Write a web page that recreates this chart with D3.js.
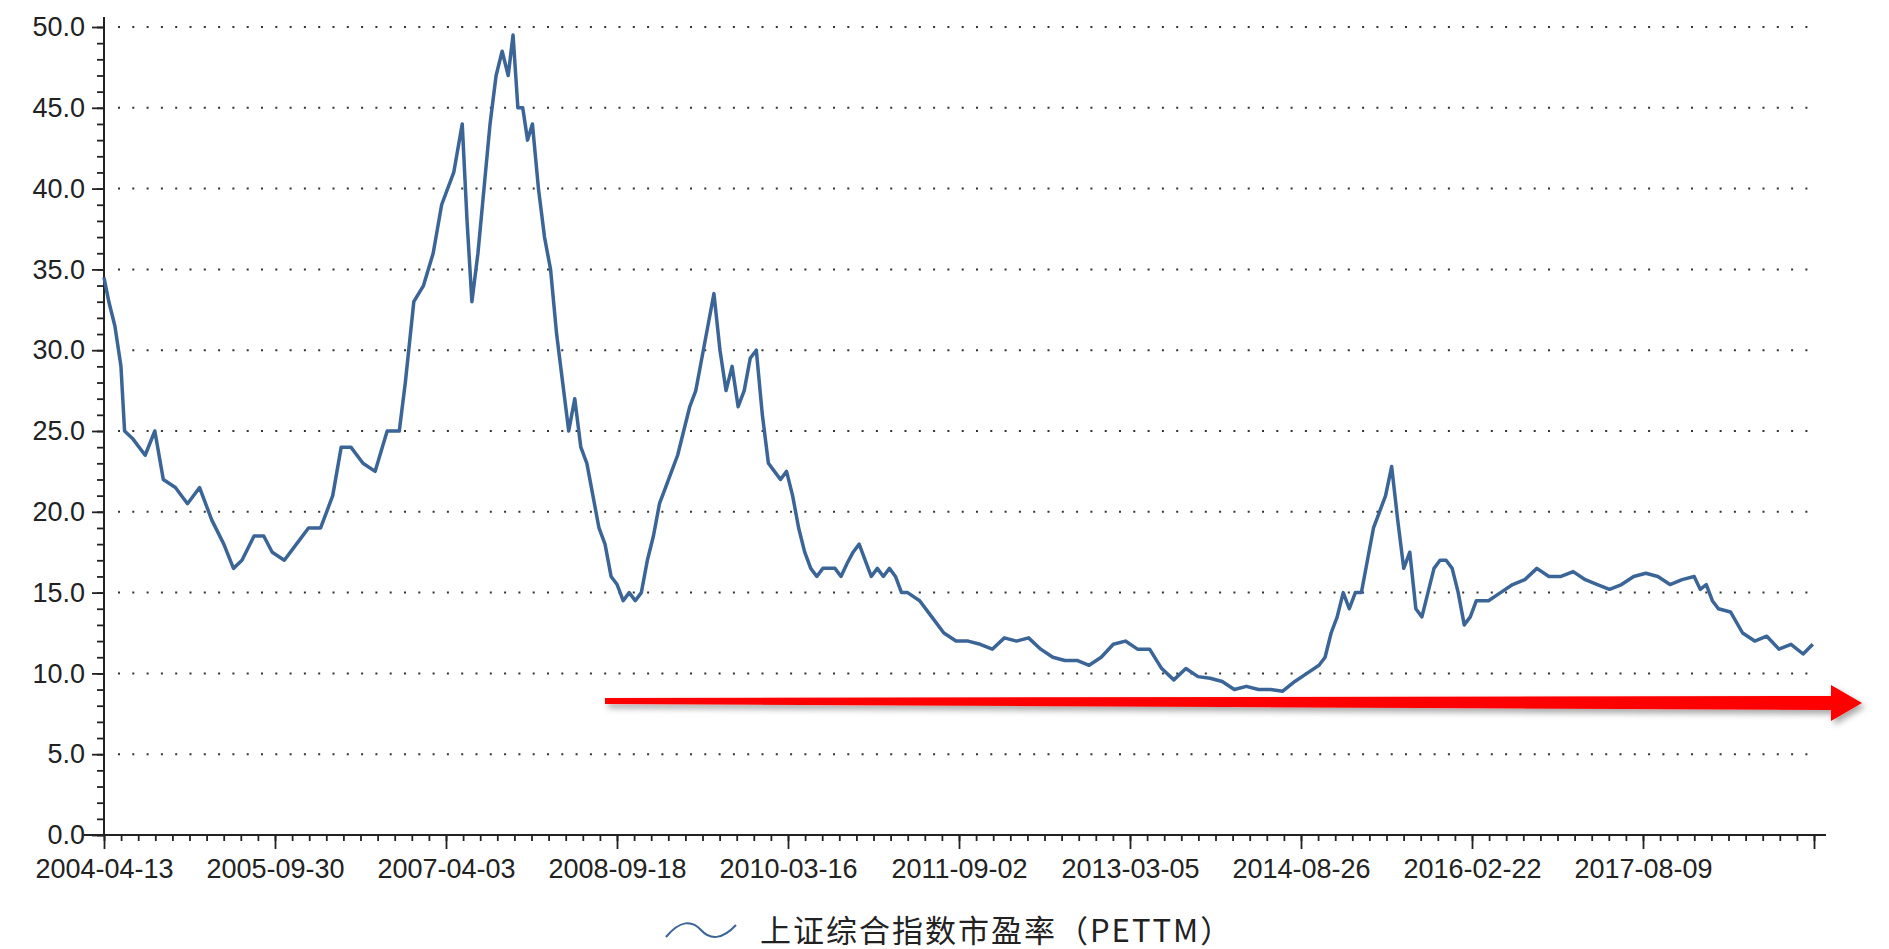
<!DOCTYPE html>
<html><head><meta charset="utf-8">
<script src="https://cdn.jsdelivr.net/npm/d3@7"></script>
<style>body{margin:0;background:#fff}</style></head>
<body><svg id="c" width="1889" height="949"></svg>
<script>
const tickLabels=["2004-04-13","2005-09-30","2007-04-03","2008-09-18","2010-03-16","2011-09-02","2013-03-05","2014-08-26","2016-02-22","2017-08-09"];
const yTicks=[0,5,10,15,20,25,30,35,40,45,50];
// sample offsets in units where one label interval = 141.3
const offs=[0,4,9,14,17,24,34,42,49,59,69,79,89,99,107,114,124,132,139,149,159,169,179,189,196,204,214,224,234,244,249,256,264,272,279,289,296,300,304,309,314,319,324,329,334,338,342,346,350,354,359,364,369,374,379,384,389,394,399,404,409,414,419,424,429,434,439,444,449,454,459,464,469,474,479,484,489,494,499,504,509,514,519,524,529,534,539,544,549,554,559,564,569,574,579,584,589,594,604,609,614,619,624,629,634,639,644,649,654,659,664,674,684,694,704,714,724,734,744,754,764,774,784,794,804,814,824,834,844,854,864,874,884,894,904,914,924,934,944,954,964,974,984,994,1004,1009,1014,1019,1024,1029,1034,1039,1044,1049,1054,1059,1064,1069,1074,1079,1084,1089,1094,1099,1104,1109,1114,1119,1124,1129,1134,1139,1144,1154,1164,1174,1184,1194,1204,1214,1224,1234,1244,1254,1264,1274,1284,1294,1304,1314,1319,1324,1329,1334,1344,1354,1364,1374,1384,1394,1404,1412];
const pe=[34.5,33,31.5,29,25,24.5,23.5,25,22,21.5,20.5,21.5,19.5,18,16.5,17,18.5,18.5,17.5,17,18,19,19,21,24,24,23,22.5,25,25,28,33,34,36,39,41,44,38,33,36,40,44,47,48.5,47,49.5,45,45,43,44,40,37,35,31,28,25,27,24,23,21,19,18,16,15.5,14.5,15,14.5,15,17,18.5,20.5,21.5,22.5,23.5,25,26.5,27.5,29.5,31.5,33.5,30,27.5,29,26.5,27.5,29.5,30,26,23,22.5,22,22.5,21,19,17.5,16.5,16,16.5,16.5,16,16.8,17.5,18,17,16,16.5,16,16.5,16,15,15,14.5,13.5,12.5,12,12,11.8,11.5,12.2,12,12.2,11.5,11,10.8,10.8,10.5,11,11.8,12,11.5,11.5,10.3,9.6,10.3,9.8,9.7,9.5,9,9.2,9,9,8.9,9.5,10,10.5,11,12.5,13.5,15,14,15,15,17,19,20,21,22.8,19.5,16.5,17.5,14,13.5,15,16.5,17,17,16.5,15,13,13.5,14.5,14.5,14.5,15,15.5,15.8,16.5,16,16,16.3,15.8,15.5,15.2,15.5,16,16.2,16,15.5,15.8,16,15.2,15.5,14.5,14,13.8,12.5,12,12.3,11.5,11.8,11.2,11.8];
const legendText="上证综合指数市盈率（PETTM）";

const svg=d3.select("#c");
const L=104,R=1814,T=27,B=835;
const x=d3.scaleLinear().domain([0,tickLabels.length*141.3]).range([L,R]);
const y=d3.scaleLinear().domain([0,50]).range([B,T]);
const font="'Liberation Sans',Arial,sans-serif";

svg.append("g").selectAll("line").data(yTicks.filter(d=>d>0)).join("line")
 .attr("x1",L+14).attr("x2",R).attr("y1",d=>y(d)).attr("y2",d=>y(d))
 .attr("stroke","#333").attr("stroke-width",2).attr("stroke-dasharray","2,12.3");

const ya=svg.append("g").attr("transform",`translate(${L},0)`)
 .call(d3.axisLeft(y).tickValues(yTicks).tickFormat(d3.format(".1f")).tickSize(12).tickSizeOuter(0));
ya.append("g").call(d3.axisLeft(y).tickValues(d3.range(0,51,1)).tickFormat("").tickSize(7).tickSizeOuter(0));
const xa=svg.append("g").attr("transform",`translate(0,${B})`)
 .call(d3.axisBottom(x).tickValues(d3.range(0,11).map(i=>i*141.3)).tickFormat((d,i)=>tickLabels[i]||"").tickSize(14).tickSizeOuter(0));
xa.append("g").call(d3.axisBottom(x).tickValues(d3.range(0,101).map(i=>i*14.13)).tickFormat("").tickSize(6).tickSizeOuter(0));
svg.append("line").attr("x1",L-20).attr("x2",1826).attr("y1",B).attr("y2",B).attr("stroke","#222").attr("stroke-width",2);
svg.append("line").attr("x1",L).attr("x2",L).attr("y1",T-10).attr("y2",B).attr("stroke","#222").attr("stroke-width",2);
svg.selectAll(".domain").remove();
svg.selectAll(".tick line").attr("stroke","#222").attr("stroke-width",1.8);
ya.selectAll("text").attr("font-size",27).attr("font-family",font).attr("fill","#222").attr("dx",-4);
xa.selectAll("text").attr("font-size",27).attr("font-family",font).attr("fill","#222").attr("dy","0.95em");

svg.append("path").datum(offs.map((o,i)=>[o,pe[i]]))
 .attr("d",d3.line().x(d=>x(d[0])).y(d=>y(d[1])))
 .attr("fill","none").attr("stroke","#3b6497").attr("stroke-width",3.5).attr("stroke-linejoin","round");

const defs=svg.append("defs");
const f=defs.append("filter").attr("id","sh").attr("x","-5%").attr("y","-50%").attr("width","110%").attr("height","200%");
f.append("feDropShadow").attr("dx",3).attr("dy",4).attr("stdDeviation",3).attr("flood-color","#000").attr("flood-opacity",0.35);
svg.append("path").attr("d","M605,698 L1831,696 L1831,685 L1862,703 L1831,721 L1831,710 L605,704 Z")
 .attr("fill","#ff0000").attr("filter","url(#sh)");

svg.append("path").attr("d","M666,937 C680,920 692,920 701,930 C710,940 722,940 736,925")
 .attr("fill","none").attr("stroke","#3b6497").attr("stroke-width",2);
svg.append("text").attr("x",760).attr("y",942).attr("font-size",31).attr("letter-spacing",2).attr("font-family","'Noto Sans CJK SC',sans-serif")
 .attr("fill","#222").text(legendText);
</script></body></html>
